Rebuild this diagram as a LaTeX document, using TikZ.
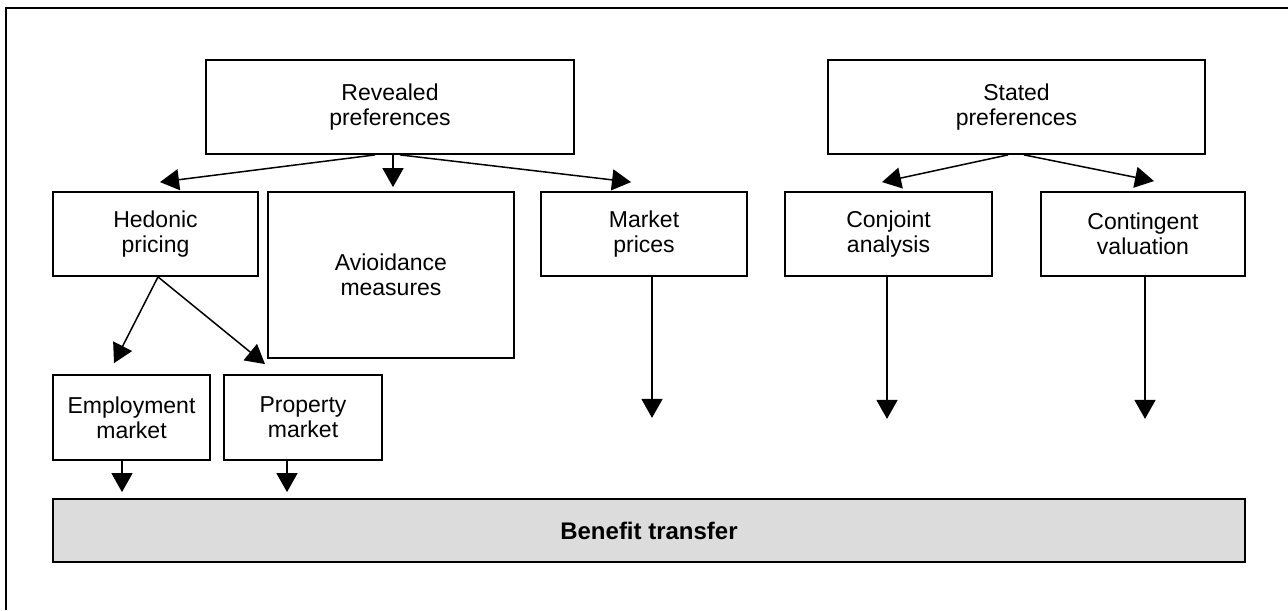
\documentclass[tikz,border=0pt]{standalone}
\usepackage{fontspec}
\setmainfont{Liberation Sans}
\usetikzlibrary{arrows.meta,calc}
\begin{document}
\begin{tikzpicture}[x=0.5pt,y=-0.5pt,
  box/.style={draw=black,line width=0.9pt,fill=white,align=center,inner sep=0pt,
    font=\fontsize{11.5}{12.5}\selectfont},
  arr/.style={line width=0.75pt,-{Triangle[length=9.5pt,width=10.5pt]}},
  frame/.style={line width=1pt}]
\useasboundingbox (0,0) rectangle (1288,610);
% outer frame (partly visible)
\draw[frame] (6,610) -- (6,8) -- (1288,8);
% nodes
\node[box,minimum width=184pt,minimum height=47pt] (rev) at (390,107) {Revealed\\preferences};
\node[box,minimum width=188.5pt,minimum height=47pt] (sta) at (1016.5,107) {Stated\\preferences};
\node[box,minimum width=102.5pt,minimum height=42pt] (hed) at (155.5,234) {Hedonic\\pricing};
\node[box,minimum width=123pt,minimum height=83pt] (avo) at (391,275) {Avioidance\\measures};
\node[box,minimum width=103pt,minimum height=42pt] (mkt) at (644,234) {Market\\prices};
\node[box,minimum width=103.5pt,minimum height=42pt] (con) at (888.5,234) {Conjoint\\analysis};
\node[box,minimum width=102pt,minimum height=42pt] (cva) at (1143,234) {Contingent\\valuation};
\node[box,minimum width=78.5pt,minimum height=42.5pt] (emp) at (131.5,417.5) {Employment\\market};
\node[box,minimum width=79pt,minimum height=42.5pt] (pro) at (303,417.5) {Property\\market};
\node[box,fill={rgb,255:red,220;green,220;blue,220},minimum width=596pt,minimum height=31.5pt,
  font=\fontsize{12}{13}\selectfont\bfseries] (ben) at (649,530.5) {Benefit transfer};
% free ends
\coordinate (mktend) at ($(mkt.south)+(8,141)$);
\coordinate (conend) at ($(con.south)+(-1.5,142)$);
\coordinate (cvaend) at ($(cva.south)+(2,142)$);
% connectors
\draw[arr] ($(rev.south)+(-15,0)$) -- ($(hed.north)+(4.5,-9)$);
\draw[arr] ($(rev.south)+(3,0)$) -- ($(avo.north)+(2,-4)$);
\draw[arr] ($(rev.south)+(10,0)$) -- ($(mkt.north)+(-13,-9)$);
\draw[arr] ($(sta.south)+(-8.5,0)$) -- ($(con.north)+(-6.5,-9)$);
\draw[arr] ($(sta.south)+(7.5,0)$) -- ($(cva.north)+(11,-10)$);
\draw[arr] ($(hed.south)+(2.5,0)$) -- ($(emp.north)+(-17.5,-11)$);
\draw[arr] ($(hed.south)+(2.5,0)$) -- ($(pro.north)+(-38,-10)$);
\draw[arr] ($(mkt.south)+(8,0)$) -- (mktend);
\draw[arr] ($(con.south)+(-1.5,0)$) -- (conend);
\draw[arr] ($(cva.south)+(2,0)$) -- (cvaend);
\draw[arr] ($(emp.south)+(-9.5,0)$) -- ($(emp.south|-ben.north)+(-9.5,-6)$);
\draw[arr] ($(pro.south)+(-16,0)$) -- ($(pro.south|-ben.north)+(-16,-6)$);
\end{tikzpicture}
\end{document}
